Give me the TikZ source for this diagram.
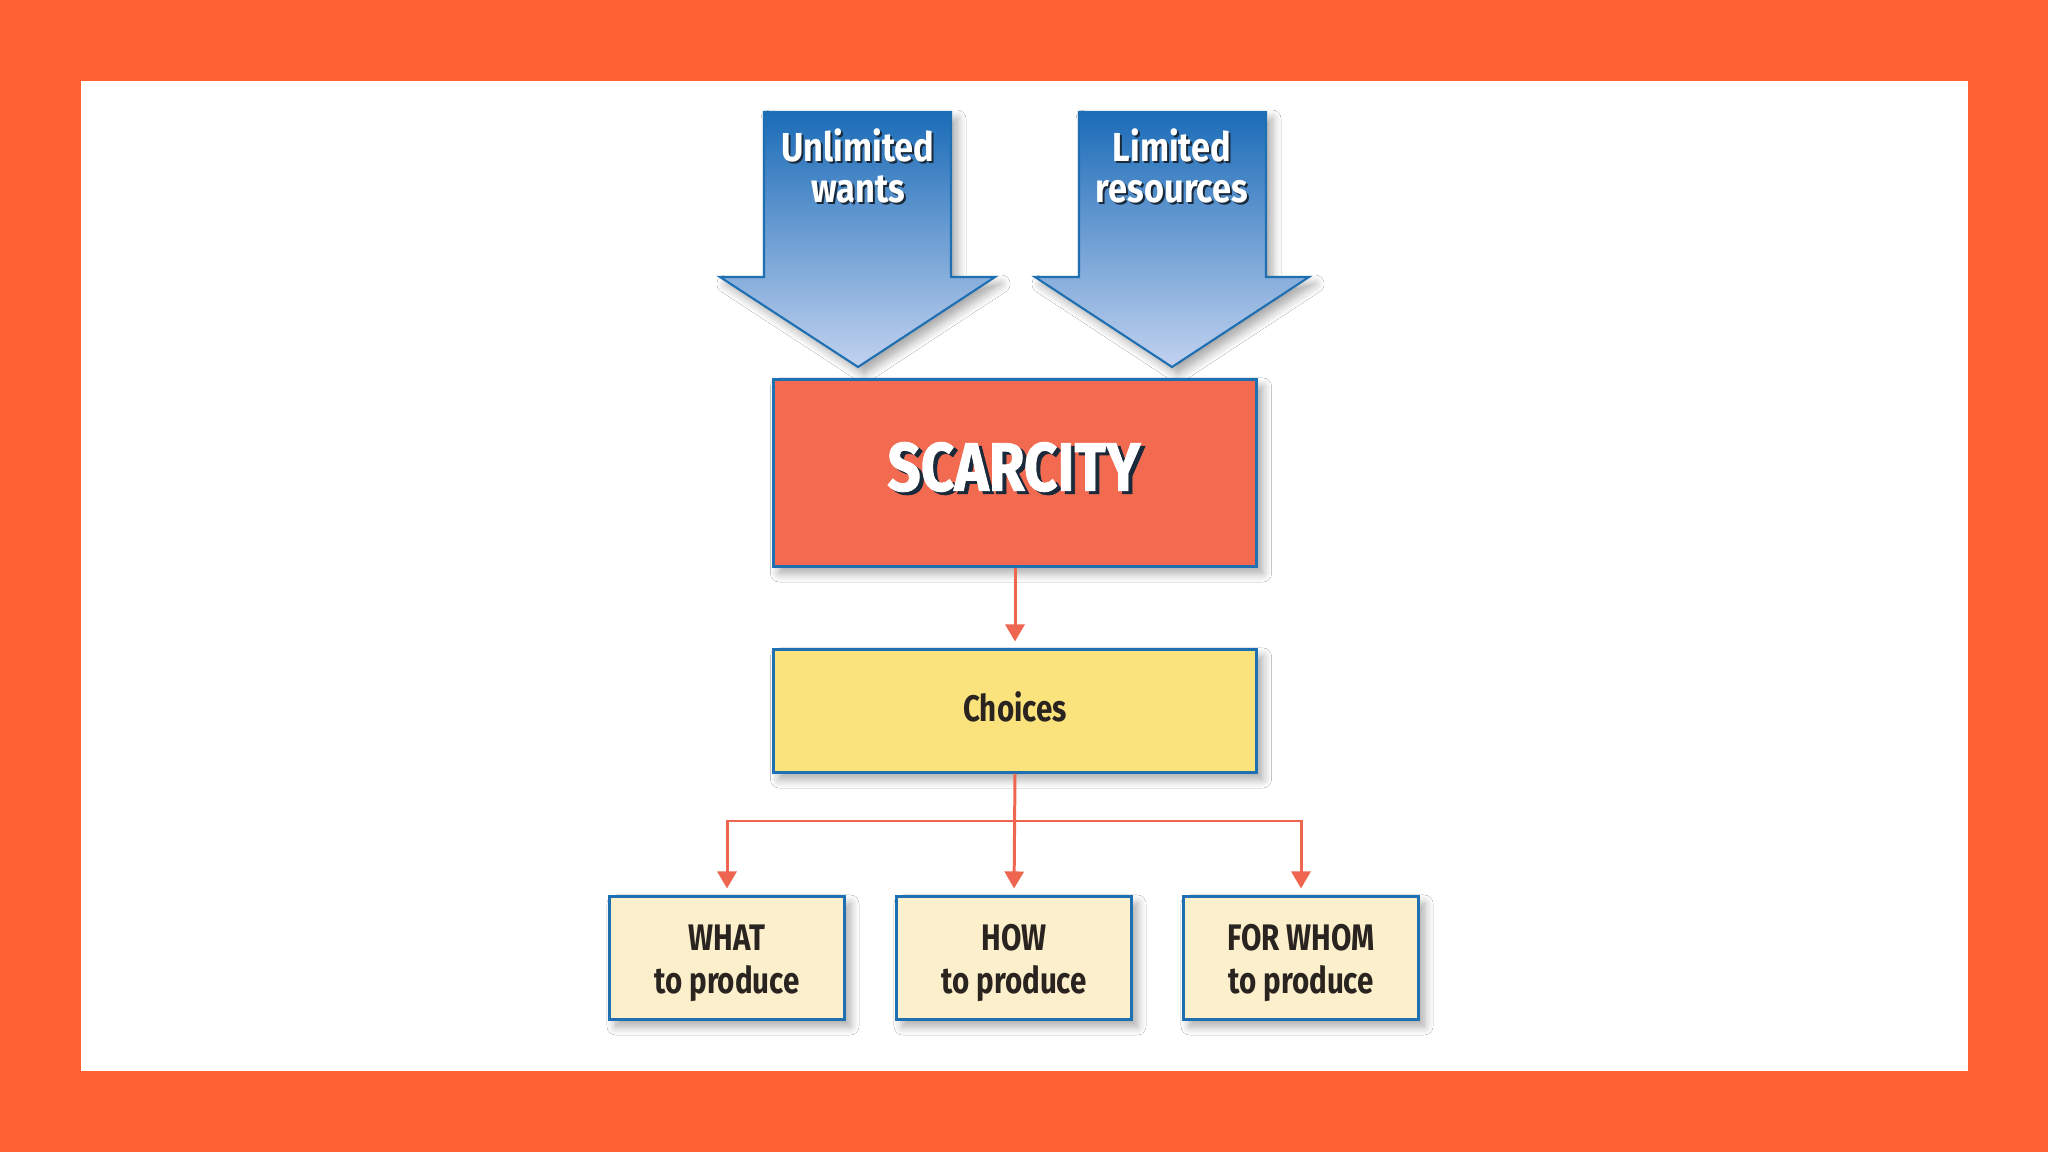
\documentclass[tikz,border=0pt]{standalone}
\usepackage{fontspec}
\setmainfont{Fira Sans}
\newfontfamily\labfont[FakeStretch=0.8]{Fira Sans Bold}
\newfontfamily\arrfont[FakeStretch=0.85]{Fira Sans Bold}
\newfontfamily\bigfont[FakeStretch=0.85,FakeBold=1.2]{Fira Sans Bold}
\usetikzlibrary{arrows.meta,shadows.blur}
\definecolor{framebg}{HTML}{FF6034}
\definecolor{bordblue}{HTML}{1F6FB3}
\definecolor{scarfill}{HTML}{F26B50}
\definecolor{choicefill}{HTML}{FAE27C}
\definecolor{creamfill}{HTML}{FCEFCB}
\definecolor{connred}{HTML}{EE6650}
\definecolor{arrtop}{HTML}{1B6CB8}
\definecolor{arrbot}{HTML}{C2D2EF}
\definecolor{textdark}{HTML}{2A2420}
\definecolor{shadowdark}{HTML}{1A2A3A}
\tikzset{
  softshadow/.style={blur shadow={shadow xshift=0.06cm,shadow yshift=-0.07cm,shadow blur steps=8,shadow opacity=35,shadow blur radius=0.09cm}},
  box/.style={draw=bordblue,line width=0.85pt,inner sep=0pt,softshadow},
  bigbox/.style={box,fill=scarfill,minimum width=4.83cm,minimum height=1.86cm},
  choicebox/.style={box,fill=choicefill,minimum width=4.83cm,minimum height=1.22cm},
  qbox/.style={box,fill=creamfill,minimum width=2.34cm,minimum height=1.22cm},
  boxtext/.style={align=center,inner sep=0pt,text=textdark,font=\labfont\fontsize{10.5}{12.2}\selectfont},
  bigarrow/.style={draw=bordblue,line width=0.6pt,line join=miter,top color=arrtop,bottom color=arrbot,softshadow},
  arrlabel/.style={align=center,text=white,font=\arrfont\fontsize{11.5}{11.5}\selectfont},
  arrlabelsh/.style={align=center,text=shadowdark,font=\arrfont\fontsize{11.5}{11.5}\selectfont},
  conn/.style={draw=connred,line width=0.85pt,-{Triangle[width=0.19cm,length=0.17cm]},shorten >=0.07cm}
}
\begin{document}
\begin{tikzpicture}[x=0.01cm,y=-0.01cm]
\useasboundingbox (0,0) rectangle (2048,1152);
\fill[framebg] (0,0) rectangle (2048,1152);
\fill[white] (81,81) rectangle (1968,1071);

% big arrows
\path[bigarrow] (764,112) -- (951,112) -- (951,277) -- (995,277) -- (858,367) -- (720,277) -- (764,277) -- cycle;
\path[bigarrow] (1079,112) -- (1266,112) -- (1266,277) -- (1309,277) -- (1172,367) -- (1035,277) -- (1079,277) -- cycle;

\node[arrlabelsh] (wantssh) at (860,168) {Unlimited\\wants};
\node[arrlabel] (wants) at (858,166) {Unlimited\\wants};
\node[arrlabelsh] (ressh) at (1174,168) {Limited\\resources};
\node[arrlabel] (res) at (1172,166) {Limited\\resources};

% boxes
\node[bigbox] (scarcity) at (1015,473) {};
\node[text=shadowdark,font=\bigfont\fontsize{19.5}{20}\selectfont] (scartextsh) at (1018,470) {SCARCITY};
\node[text=white,font=\bigfont\fontsize{19.5}{20}\selectfont] (scartext) at (1014,467) {SCARCITY};

\node[choicebox] (choices) at (1015,711) {};
\node[boxtext] (choicestext) at (1015,707) {Choices};

\node[qbox] (what) at (727,958) {};
\node[qbox] (how) at (1014,958) {};
\node[qbox] (whom) at (1301,958) {};
\node[boxtext] (whattext) at (727,963) {WHAT\\to produce};
\node[boxtext] (howtext) at (1014,963) {HOW\\to produce};
\node[boxtext] (whomtext) at (1301,963) {FOR WHOM\\to produce};

% connectors
\draw[conn] (scarcity.south) -- (choices.north);
\coordinate (split) at (1015,821);
\draw[conn] (choices.south) -- (how.north);
\draw[conn] (split) -| (what.north);
\draw[conn] (split) -| (whom.north);
\end{tikzpicture}
\end{document}
